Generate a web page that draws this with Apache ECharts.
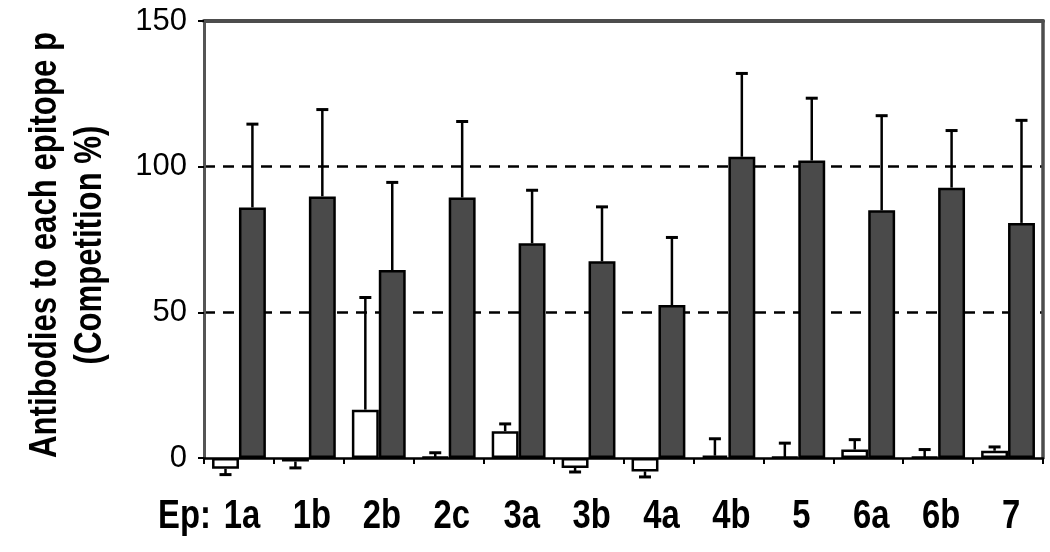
<!DOCTYPE html>
<html>
<head>
<meta charset="utf-8">
<script src="https://cdn.jsdelivr.net/npm/echarts@6/dist/echarts.min.js"></script>
<style>
html,body{margin:0;padding:0;background:#fff;}
#chart{width:1050px;height:552px;}
</style>
</head>
<body>
<div id="chart"></div>
<script>
const categories = ['1a','1b','2b','2c','3a','3b','4a','4b','5','6a','6b','7'];
// white (open) bars
const openValues = [-3.7, -1.2, 16.6, 0.3, 9.2, -3.4, -4.6, 0.8, 0.3, 2.9, 0.3, 2.5];
const openErrors = [2.0, 2.2, 38.5, 1.5, 2.5, 1.4, 1.9, 5.8, 4.8, 3.4, 2.6, 1.3];
// dark (filled) bars
const darkValues = [86.0, 89.8, 64.5, 89.4, 73.7, 67.5, 52.5, 103.4, 102.1, 85.0, 92.8, 80.7];
const darkErrors = [28.6, 29.8, 30.1, 26.1, 18.2, 18.7, 23.2, 28.6, 21.4, 32.5, 19.6, 35.2];
const yTicks = [0, 50, 100, 150];
const yTitle = 'Antibodies to each epitope p\n(Competition %)';
const xPrefix = 'Ep:';

const CAT_GAP = 0.23;
const NARROW = 0.82;
const BOLD_FONT = "bold 40px 'Liberation Sans', Arial, sans-serif";

const errData = [];
categories.forEach((c, i) => {
  errData.push([i, openValues[i], openErrors[i], 0]);
  errData.push([i, darkValues[i], darkErrors[i], 1]);
});

function renderErr(params, api) {
  const i = api.value(0), v = api.value(1), e = api.value(2), side = api.value(3);
  const band = api.size([1, 0])[0];
  const bw = band * (1 - CAT_GAP) / 2;
  const base = api.coord([i, v]);
  const x = base[0] + (side === 0 ? -bw / 2 : bw / 2);
  const tip = api.coord([i, v < 0 ? v - e : v + e]);
  const cap = 6;
  return {
    type: 'group',
    children: [
      {type: 'line', shape: {x1: x, y1: base[1], x2: x, y2: tip[1]}, style: {stroke: '#000', lineWidth: 2.5}},
      {type: 'line', shape: {x1: x - cap, y1: tip[1], x2: x + cap, y2: tip[1]}, style: {stroke: '#000', lineWidth: 3}}
    ]
  };
}

const chart = echarts.init(document.getElementById('chart'), null, {renderer: 'canvas'});
chart.setOption({
  animation: false,
  backgroundColor: '#fff',
  grid: {left: 204, right: 7, top: 21, bottom: 94, containLabel: false},
  xAxis: [{
    type: 'category',
    data: categories,
    axisLine: {onZero: true, lineStyle: {color: '#000', width: 2.5}},
    axisTick: {show: true, inside: false, length: 6, lineStyle: {color: '#000', width: 2}},
    axisLabel: {show: false},
    splitLine: {show: false}
  }, {
    type: 'category',
    position: 'top',
    data: categories,
    axisLine: {show: true, onZero: false, lineStyle: {color: '#4d4d4d', width: 4}},
    axisTick: {show: false},
    axisLabel: {show: false}
  }],
  yAxis: [{
    type: 'value',
    min: 0, max: 150, interval: 50,
    axisLine: {show: true, lineStyle: {color: '#555', width: 3}},
    axisTick: {show: true, length: 6, lineStyle: {color: '#000', width: 2}},
    axisLabel: {
      margin: 17, color: '#000', fontSize: 31,
      fontFamily: "'Liberation Sans', Arial, sans-serif",
      formatter: v => yTicks.includes(v) ? String(v) : ''
    },
    splitLine: {show: true, showMinLine: false, showMaxLine: false, lineStyle: {color: '#000', width: 2.5, type: [11, 8]}}
  }, {
    type: 'value',
    position: 'right',
    min: 0, max: 150, interval: 50,
    axisLine: {show: true, onZero: false, lineStyle: {color: '#4d4d4d', width: 3.5}},
    axisTick: {show: false},
    axisLabel: {show: false},
    splitLine: {show: false}
  }],
  series: [{
    type: 'bar',
    data: openValues,
    barGap: '0%',
    barCategoryGap: (CAT_GAP * 100) + '%',
    clip: false,
    itemStyle: {color: '#fff', borderColor: '#000', borderWidth: 2.5},
    z: 2
  }, {
    type: 'bar',
    data: darkValues,
    barGap: '0%',
    barCategoryGap: (CAT_GAP * 100) + '%',
    clip: false,
    itemStyle: {color: '#4a4a4a', borderColor: '#000', borderWidth: 2.5},
    z: 2
  }, {
    type: 'custom',
    renderItem: renderErr,
    data: errData,
    encode: {x: 0, y: 1},
    clip: false,
    z: 3
  }]
});

// Narrow bold labels (Arial Narrow look), positioned through the category scale
const labelY = 517;
const graphics = categories.map(c => {
  const px = chart.convertToPixel({xAxisIndex: 0}, c);
  return {
    type: 'text', x: px + 3, y: labelY, scaleX: NARROW, silent: true,
    style: {text: c, font: BOLD_FONT, fill: '#000', align: 'center', verticalAlign: 'middle'}
  };
});
graphics.push({
  type: 'text', x: 158, y: labelY, scaleX: NARROW, silent: true,
  style: {text: xPrefix, font: BOLD_FONT, fill: '#000', align: 'left', verticalAlign: 'middle'}
});
graphics.push({
  type: 'text', x: 68, y: 245, rotation: Math.PI / 2, scaleX: NARROW, silent: true,
  style: {text: yTitle, font: "bold 38px 'Liberation Sans', Arial, sans-serif", fill: '#000',
          align: 'center', verticalAlign: 'middle', lineHeight: 45}
});
chart.setOption({graphic: graphics});
</script>
</body>
</html>
